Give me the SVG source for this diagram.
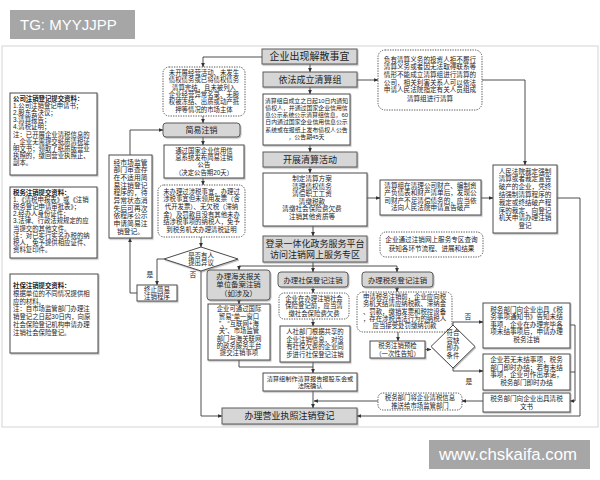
<svg xmlns="http://www.w3.org/2000/svg" width="600" height="480" viewBox="0 0 600 480">
<defs>
<marker id="ah" viewBox="0 0 6 6" refX="5.6" refY="3" markerWidth="4.5" markerHeight="4.5" orient="auto" markerUnits="userSpaceOnUse"><path d="M0,0.4 L6,3 L0,5.6 z" fill="#333"/></marker>
<filter id="sh" x="-10%" y="-10%" width="130%" height="140%"><feDropShadow dx="1" dy="1.2" stdDeviation="0.6" flood-color="#777" flood-opacity="0.5"/></filter>
</defs>
<style>
text{font-family:"Liberation Sans","Noto Sans CJK SC",sans-serif;fill:#222}
.c{text-anchor:middle}
.b{font-weight:bold}
.g{fill:#d6d6d6;stroke:#5a5a5a;stroke-width:1;filter:url(#sh)}
.w{fill:#fff;stroke:#4a4a4a;stroke-width:1;filter:url(#sh)}
.d{fill:#fff;stroke:#555;stroke-width:1;stroke-dasharray:1.3 1.2}
.ln{fill:none;stroke:#3a3a3a;stroke-width:0.9}
.ar{marker-end:url(#ah)}
.h1{font-size:10px}
.h2{font-size:9px}
.h3{font-size:7.4px}
.s{font-size:6.4px}
.s5{font-size:5.9px}
.s6{font-size:6.6px}
.s7{font-size:6.8px}
.wm{font-family:"Liberation Sans",Arial,sans-serif;fill:#fff}
</style>

<rect x="10" y="10" width="125" height="29" fill="#a6a6a6"/>
<text class="wm" x="20" y="30" font-size="15">TG: MYYJJPP</text>

<rect x="2" y="46" width="596" height="381" fill="none" stroke="#d4d4d4" stroke-width="1"/>

<g id="connectors">
<path class="ln ar" d="M262,57 H203 V67"/>
<path class="ln ar" d="M310,64 V72"/>
<path class="ln ar" d="M310,87 V94"/>
<path class="ln ar" d="M357,80 H378"/>
<path class="ln ar" d="M482,80 H525 V165"/>
<path class="ln ar" d="M310,145 V152"/>
<path class="ln ar" d="M310,167 V173"/>
<path class="ln ar" d="M367,198 H380"/>
<path class="ln ar" d="M481,198 H493"/>
<path class="ln ar" d="M557,198 H580 V416 H357"/>
<path class="ln ar" d="M313,226 V236"/>
<path class="ln ar" d="M313,262 V272"/>
<path class="ln" d="M239,266 H397"/>
<path class="ln ar" d="M239,266 V270"/>
<path class="ln ar" d="M397,266 V272"/>
<path class="ln ar" d="M203,116 V123"/>
<path class="ln ar" d="M203,137 V145"/>
<path class="ln ar" d="M203,178 V185"/>
<path class="ln ar" d="M201,237 V247"/>
<path class="ln ar" d="M164,259 H157 V285"/>
<path class="ln ar" d="M137,293 H130 V238"/>
<path class="ln ar" d="M130,155 V130 H163"/>
<path class="ln ar" d="M201,271 V416 H222"/>
<path class="ln ar" d="M239,300 V304"/>
<path class="ln" d="M239,360 V367 H313"/>
<path class="ln ar" d="M313,287 V293"/>
<path class="ln ar" d="M313,319 V326"/>
<path class="ln ar" d="M313,362 V373"/>
<path class="ln ar" d="M313,391 V408"/>
<path class="ln ar" d="M397,287 V292"/>
<path class="ln ar" d="M398,332 V341"/>
<path class="ln ar" d="M425,349.5 H431"/>
<path class="ln ar" d="M453,325 V322 H483"/>
<path class="ln ar" d="M453,368 V371 H483"/>
<path class="ln ar" d="M570,325 H575 V401 H570"/>
<path class="ln" d="M570,372 H575"/>
<path class="ln ar" d="M483,401 H462"/>
<path class="ln ar" d="M378,401 H314"/>
<text class="s7 c" x="150" y="277">是</text>
<text class="s7 c" x="193" y="277">否</text>
<text class="s7 c" x="468" y="319">否</text>
<text class="s7 c" x="469" y="384">是</text>
</g>

<g id="n-company-docs">
<rect class="w" x="10" y="93" width="87" height="82"/>
<text class="s" x="13"><tspan class="b" x="13" y="100.5">公司注销登记提交资料：</tspan><tspan x="13" y="107.7">1.公司注销登记申请书；</tspan><tspan x="13" y="114.9">2.股东会决议；</tspan><tspan x="13" y="122.1">3.清算报告；</tspan><tspan x="13" y="129.3">4.清税证明；</tspan><tspan x="13" y="136.5">注：已开展企业清税信息的</tspan><tspan x="13" y="143.7">，企业无需提交纸质清税证</tspan><tspan x="13" y="150.9">明文书；领取了纸质版营业</tspan><tspan x="13" y="158.1">执照的，缴回营业执照正、</tspan><tspan x="13" y="165.3">副本。</tspan></text>
</g>

<g id="n-tax-docs">
<rect class="w" x="10" y="187" width="87" height="71"/>
<text class="s" x="13"><tspan class="b" x="13" y="194.5">税务注销提交资料：</tspan><tspan x="13" y="201.7">1.《清税申报表》或《注销</tspan><tspan x="13" y="208.9">税务登记申请审批表》；</tspan><tspan x="13" y="216.1">2.经办人身份证件；</tspan><tspan x="13" y="223.3">3.法律、行政法规规定的应</tspan><tspan x="13" y="230.5">当提交的其他文件。</tspan><tspan x="13" y="237.7">注：对已实行实名办税的纳</tspan><tspan x="13" y="244.9">税人，免予提供相应证件、</tspan><tspan x="13" y="252.1">资料复印件。</tspan></text>
</g>

<g id="n-social-docs">
<rect class="w" x="10" y="274" width="88" height="79"/>
<text class="s" x="13"><tspan class="b" x="13" y="288">社保注销提交资料：</tspan><tspan x="13" y="295.8">根据单位的不同情况提供相</tspan><tspan x="13" y="303.6">应的材料。</tspan><tspan x="13" y="311.4">注：自市场监管部门办理注</tspan><tspan x="13" y="319.2">销登记之日起30日内，向原</tspan><tspan x="13" y="327">社会保险登记机构申请办理</tspan><tspan x="13" y="334.8">注销社会保险登记。</tspan></text>
</g>

<g id="n-dissolve">
<rect class="g" x="262" y="49" width="95" height="15"/>
<text class="h1 c" x="309.5" y="60.2">企业出现解散事宜</text>
</g>

<g id="n-team">
<rect class="g" x="263" y="72" width="94" height="15"/>
<text class="h2 c" x="310" y="82.8">依法成立清算组</text>
</g>

<g id="n-notice">
<rect class="w" x="263" y="94" width="87" height="51"/>
<text class="s5 c"><tspan x="306.5" y="102.8">清算组自成立之日起10日内通知</tspan><tspan x="306.5" y="110">债权人，并通过国家企业信用信</tspan><tspan x="306.5" y="117.2">息公示系统公示清算组信息，60</tspan><tspan x="306.5" y="124.4">日内通过国家企业信用信息公示</tspan><tspan x="306.5" y="131.6">系统或在报纸上发布债权人公告</tspan><tspan x="306.5" y="138.8">，公告期45天</tspan></text>
</g>

<g id="n-applicant">
<rect class="d" x="378" y="50" width="104" height="60" rx="7"/>
<text class="s6 c"><tspan x="430" y="61.5">负有清算义务的投资人拒不履行</tspan><tspan x="430" y="69.2">清算义务或者因无法取得联系等</tspan><tspan x="430" y="76.9">情形不能成立清算组进行清算的</tspan><tspan x="430" y="84.6">公司，相关利害关系人可以依法</tspan><tspan x="430" y="92.3">申请人民法院指定有关人员组成</tspan><tspan x="430" y="101">清算组进行清算</tspan></text>
</g>

<g id="n-activity">
<rect class="g" x="263" y="152" width="94" height="15"/>
<text class="h2 c" x="310" y="162.8">开展清算活动</text>
</g>

<g id="n-tasks">
<rect class="w" x="263" y="173" width="104" height="53"/>
<text class="s6 c"><tspan x="312" y="181">制定清算方案</tspan><tspan x="312" y="188.6">清理债权债务</tspan><tspan x="312" y="196.2">清偿职工工资</tspan><tspan x="312" y="203.8">清缴税款</tspan><tspan x="312" y="211.4">清缴社会保险费欠费</tspan><tspan x="312" y="219">注销其他资质等</tspan></text>
</g>

<g id="n-bankrupt">
<rect class="w" x="380" y="180" width="101" height="35"/>
<text class="s6 c"><tspan x="430.5" y="188">清算组在清理公司财产、编制资</tspan><tspan x="430.5" y="195.4">产负债表和财产清单后，发现公</tspan><tspan x="430.5" y="202.8">司财产不足清偿债务的，应当依</tspan><tspan x="430.5" y="210.2">法向人民法院申请宣告破产</tspan></text>
</g>

<g id="n-court">
<rect class="w" x="493" y="165" width="64" height="68"/>
<text class="s6 c"><tspan x="525" y="173.5">人民法院裁定强制</tspan><tspan x="525" y="181.3">清算或者裁定宣告</tspan><tspan x="525" y="189.1">破产的企业，凭终</tspan><tspan x="525" y="196.9">结强制清算程序的</tspan><tspan x="525" y="204.7">裁定或终结破产程</tspan><tspan x="525" y="212.5">序的裁定，向登记</tspan><tspan x="525" y="220.3">机关申请办理注销</tspan><tspan x="525" y="228.1">登记</tspan></text>
</g>

<g id="n-query">
<rect class="d" x="380" y="232" width="103" height="25" rx="6"/>
<text class="s6 c"><tspan x="431.5" y="242.3">企业通过注销网上服务专区查询</tspan><tspan x="431.5" y="250.8">获知各环节流程、进展和结果</tspan></text>
</g>

<g id="n-platform">
<rect class="g" x="263" y="236" width="104" height="26"/>
<text class="h2 c"><tspan x="315" y="247">登录一体化政务服务平台</tspan><tspan x="315" y="258">访问注销网上服务专区</tspan></text>
</g>

<g id="n-simple-pre">
<rect class="d" x="163" y="67" width="82" height="49" rx="6"/>
<text class="s c"><tspan x="204" y="75">未开展经营活动、未发生</tspan><tspan x="204" y="82.3">债权债务或已将债权债务</tspan><tspan x="204" y="89.6">清算完结，且未被列入</tspan><tspan x="204" y="96.9">企业经营异常名录、无股</tspan><tspan x="204" y="104.2">权被冻结、出质或动产抵</tspan><tspan x="204" y="111.5">押等情况的市场主体</tspan></text>
</g>

<g id="n-simple">
<rect class="g" x="163" y="123" width="77" height="14" rx="3"/>
<text class="c" font-size="8" x="201.5" y="133">简易注销</text>
</g>

<g id="n-simple-notice">
<rect class="w" x="164" y="145" width="80" height="33"/>
<text class="s c"><tspan x="204" y="153">通过国家企业信用信</tspan><tspan x="204" y="160.2">息系统发布简易注销</tspan><tspan x="204" y="167.4">公告</tspan><tspan x="204" y="174.6">（决定公告期20天）</tspan></text>
</g>

<g id="n-tax-exempt">
<rect class="d" x="158" y="185" width="87" height="52" rx="6"/>
<text class="s c"><tspan x="201.5" y="193.8">未办理过涉税事宜，办理过</tspan><tspan x="201.5" y="201.4">涉税事宜但未领用发票（含</tspan><tspan x="201.5" y="209">代开发票）、无欠税（滞纳</tspan><tspan x="201.5" y="216.6">金）及罚款且没有其他未办</tspan><tspan x="201.5" y="224.2">结涉税事项的纳税人，免予</tspan><tspan x="201.5" y="231.8">到税务机关办理清税证明</tspan></text>
</g>

<g id="n-objection">
<polygon class="w" points="164,259 201,247 238,259 201,271"/>
<text class="s c"><tspan x="201" y="257.5">是否有人</tspan><tspan x="201" y="265.3">提出异议</tspan></text>
</g>

<g id="n-review">
<rect class="w" x="109" y="155" width="43" height="83"/>
<text class="s7 c"><tspan x="130.5" y="164.5">经市场监管</tspan><tspan x="130.5" y="172.2">部门审查存</tspan><tspan x="130.5" y="179.9">在不适用简</tspan><tspan x="130.5" y="187.6">易注销登记</tspan><tspan x="130.5" y="195.3">程序的，待</tspan><tspan x="130.5" y="203">异常状态消</tspan><tspan x="130.5" y="210.7">失后可再次</tspan><tspan x="130.5" y="218.4">依程序公示</tspan><tspan x="130.5" y="226.1">申请简易注</tspan><tspan x="130.5" y="233.8">销登记。</tspan></text>
</g>

<g id="n-terminate">
<rect class="w" x="137" y="285" width="40" height="16"/>
<text class="c" font-size="6.5"><tspan x="157" y="292">终止简易</tspan><tspan x="157" y="299.3">注销程序</tspan></text>
</g>

<g id="n-customs">
<rect class="g" x="207" y="270" width="63" height="30" rx="3"/>
<text class="h3 c"><tspan x="238.5" y="278.6">办理海关报关</tspan><tspan x="238.5" y="287.4">单位备案注销</tspan><tspan x="238.5" y="296.2">（如涉及）</tspan></text>
</g>

<g id="n-customs-note">
<rect class="w" x="208" y="304" width="62" height="56"/>
<text class="s c"><tspan x="239" y="311.3">企业可通过国际</tspan><tspan x="239" y="318.6">贸易“单一窗口</tspan><tspan x="239" y="325.9">”、“互联网+海</tspan><tspan x="239" y="333.2">关”、市场监管</tspan><tspan x="239" y="340.5">部门与海关联网</tspan><tspan x="239" y="347.8">的政务服务平台</tspan><tspan x="239" y="355.1">提交注销事项</tspan></text>
</g>

<g id="n-social">
<rect class="g" x="278" y="272" width="70" height="15" rx="3"/>
<text class="h3 c" x="313" y="282.6">办理社保登记注销</text>
</g>

<g id="n-social-note">
<rect class="d" x="279" y="293" width="70" height="26" rx="5"/>
<text class="s c"><tspan x="314" y="300.8">企业在办理注销社会</tspan><tspan x="314" y="308.3">保险登记前，应当清</tspan><tspan x="314" y="315.8">缴社会保险费欠费</tspan></text>
</g>

<g id="n-social-auto">
<rect class="w" x="280" y="326" width="70" height="36"/>
<text class="s c"><tspan x="315" y="334.3">人社部门根据共享的</tspan><tspan x="315" y="341.8">企业注销信息，对没</tspan><tspan x="315" y="349.3">有社保欠费的企业同</tspan><tspan x="315" y="356.8">步进行社保登记注销</tspan></text>
</g>

<g id="n-report">
<rect class="w" x="263" y="373" width="94" height="18"/>
<text class="c" font-size="6.2"><tspan x="310" y="380.5">清算组制作清算报告报股东会或</tspan><tspan x="310" y="388.2">法院确认</tspan></text>
</g>

<g id="n-license">
<rect class="g" x="222" y="408" width="135" height="16"/>
<text class="h2 c" x="289.5" y="419.3">办理营业执照注销登记</text>
</g>

<g id="n-tax">
<rect class="g" x="362" y="272" width="71" height="15" rx="3"/>
<text class="h3 c" x="397.5" y="282.6">办理税务登记注销</text>
</g>

<g id="n-tax-note">
<rect class="d" x="357" y="292" width="95" height="40" rx="6"/>
<text class="s c"><tspan x="404.5" y="299.2">申请税务注销前，企业应向税</tspan><tspan x="404.5" y="306.4">务机关结清应纳税款、滞纳金</tspan><tspan x="404.5" y="313.6">、罚款，缴销发票和税控设备</tspan><tspan x="404.5" y="320.8">，存在涉税违法行为的纳税人</tspan><tspan x="404.5" y="328">应当接受处罚缴纳罚款</tspan></text>
</g>

<g id="n-precheck">
<rect class="w" x="370" y="341" width="55" height="17"/>
<text class="s c"><tspan x="397.5" y="348">税务注销预检</tspan><tspan x="397.5" y="355.6">（一次性告知）</tspan></text>
</g>

<g id="n-condition">
<polygon class="w" points="431,346.5 453,325 475,346.5 453,368"/>
<text class="s c"><tspan x="453" y="335">符合</tspan><tspan x="453" y="342.6">容缺</tspan><tspan x="453" y="350.2">即办</tspan><tspan x="453" y="357.8">条件</tspan></text>
</g>

<g id="n-unsettled">
<rect class="w" x="483" y="303" width="87" height="45"/>
<text class="s6 c"><tspan x="526.5" y="311.5">税务部门向企业出具《税</tspan><tspan x="526.5" y="319">务事项通知书》告知未结</tspan><tspan x="526.5" y="326.5">事项，企业在办理完毕各</tspan><tspan x="526.5" y="334">项未结事项后，申请办理</tspan><tspan x="526.5" y="341.5">税务注销</tspan></text>
</g>

<g id="n-instant">
<rect class="w" x="483" y="354" width="87" height="36"/>
<text class="s6 c"><tspan x="526.5" y="362">企业若无未结事项，税务</tspan><tspan x="526.5" y="369.6">部门即时办结；若有未结</tspan><tspan x="526.5" y="377.2">事项，企业可作出承诺，</tspan><tspan x="526.5" y="384.8">税务部门即时办结</tspan></text>
</g>

<g id="n-certificate">
<rect class="w" x="483" y="393" width="87" height="19"/>
<text class="s6 c"><tspan x="526.5" y="400.8">税务部门向企业出具清税</tspan><tspan x="526.5" y="408.5">文书</tspan></text>
</g>

<g id="n-push">
<rect class="d" x="378" y="393" width="84" height="17" rx="5"/>
<text class="s c"><tspan x="420" y="400.3">税务部门将企业清税信息</tspan><tspan x="420" y="407.5">推送给市场监管部门</tspan></text>
</g>

<rect x="429" y="440" width="161" height="29" fill="#a6a6a6"/>
<text class="wm" x="439" y="460" font-size="16.8">www.chskaifa.com</text>
</svg>
